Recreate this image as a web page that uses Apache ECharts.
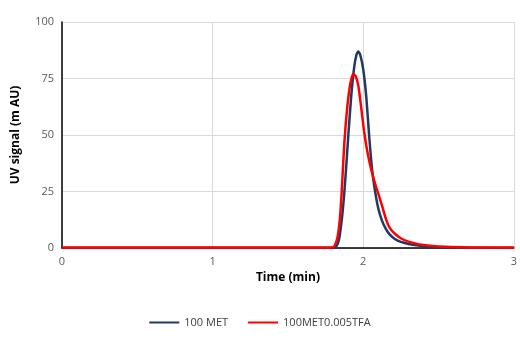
<!DOCTYPE html>
<html>
<head>
<meta charset="utf-8">
<script src="https://cdn.jsdelivr.net/npm/echarts@6/dist/echarts.min.js"></script>
<style>
  html, body { margin: 0; padding: 0; background: #fff; }
  #main { width: 520px; height: 343px; }
</style>
</head>
<body>
<div id="main"></div>
<script>
var myChart = echarts.init(document.getElementById("main"));

// time (min) / signal (m AU)
const metTime = [0, 1.80, 1.82, 1.84, 1.86, 1.875, 1.89, 1.90, 1.92, 1.94, 1.955, 1.967, 1.98, 2.00, 2.02, 2.04, 2.06, 2.08, 2.10, 2.125, 2.15, 2.175, 2.21, 2.25, 2.30, 2.34, 2.42, 2.55, 3];
const metSignal = [0, 0, 0.5, 4, 14, 25, 39, 49, 67, 80, 85.5, 87, 85.5, 79, 67, 49, 34, 24.5, 17.5, 12, 8.5, 6, 4, 2.7, 1.8, 1.3, 0.6, 0.2, 0];

const tfaTime = [0, 1.79, 1.81, 1.83, 1.845, 1.857, 1.875, 1.895, 1.915, 1.934, 1.95, 1.967, 1.985, 2.005, 2.025, 2.05, 2.07, 2.09, 2.11, 2.13, 2.15, 2.175, 2.21, 2.25, 2.30, 2.40, 2.55, 2.70, 3];
const tfaSignal = [0.2, 0.2, 1, 5, 13, 25, 47, 63, 73, 77, 76, 72, 63, 52, 43.5, 35.5, 30.5, 26, 22, 17.5, 13, 9, 6.3, 4.3, 2.8, 1.3, 0.5, 0.25, 0.2];

const seriesNames = ["100 MET", "100MET0.005TFA"];

function pairs(xs, ys) {
  return xs.map((x, i) => [x, ys[i]]);
}

const labelStyle = { color: "#595959", fontSize: 11, fontFamily: "Open Sans" };

option = {
  animation: false,
  color: ["#203864", "#ff0000"],
  grid: { left: 62, right: 3, top: 22, bottom: 95 },
  legend: {
    bottom: 10,
    icon: "rect",
    itemWidth: 30,
    itemHeight: 2,
    itemGap: 20,
    textStyle: { color: "#404040", fontSize: 11, fontFamily: "Open Sans" },
    data: seriesNames,
  },
  xAxis: {
    type: "value",
    min: 0,
    max: 3,
    interval: 1,
    name: "Time (min)",
    nameLocation: "middle",
    nameGap: 24,
    nameTextStyle: { color: "#000", fontWeight: "bold", fontSize: 12, fontFamily: "Open Sans" },
    axisLine: { lineStyle: { color: "#000", width: 1.5 } },
    axisTick: { show: false },
    axisLabel: labelStyle,
    splitLine: { lineStyle: { color: "#d9d9d9" } },
  },
  yAxis: {
    type: "value",
    min: 0,
    max: 100,
    interval: 25,
    name: "UV signal (m AU)",
    nameLocation: "middle",
    nameGap: 40,
    nameTextStyle: { color: "#000", fontWeight: "bold", fontSize: 12, fontFamily: "Open Sans" },
    axisLine: { show: true, lineStyle: { color: "#000", width: 1.5 } },
    axisTick: { show: false },
    axisLabel: labelStyle,
    splitLine: { lineStyle: { color: "#d9d9d9" } },
  },
  series: [
    {
      name: seriesNames[0],
      type: "line",
      data: pairs(metTime, metSignal),
      smooth: 0.2,
      showSymbol: false,
      lineStyle: { width: 2.5 },
    },
    {
      name: seriesNames[1],
      type: "line",
      data: pairs(tfaTime, tfaSignal),
      smooth: 0.2,
      showSymbol: false,
      lineStyle: { width: 2.5 },
    },
  ],
};
myChart.setOption(option);
</script>
</body>
</html>
